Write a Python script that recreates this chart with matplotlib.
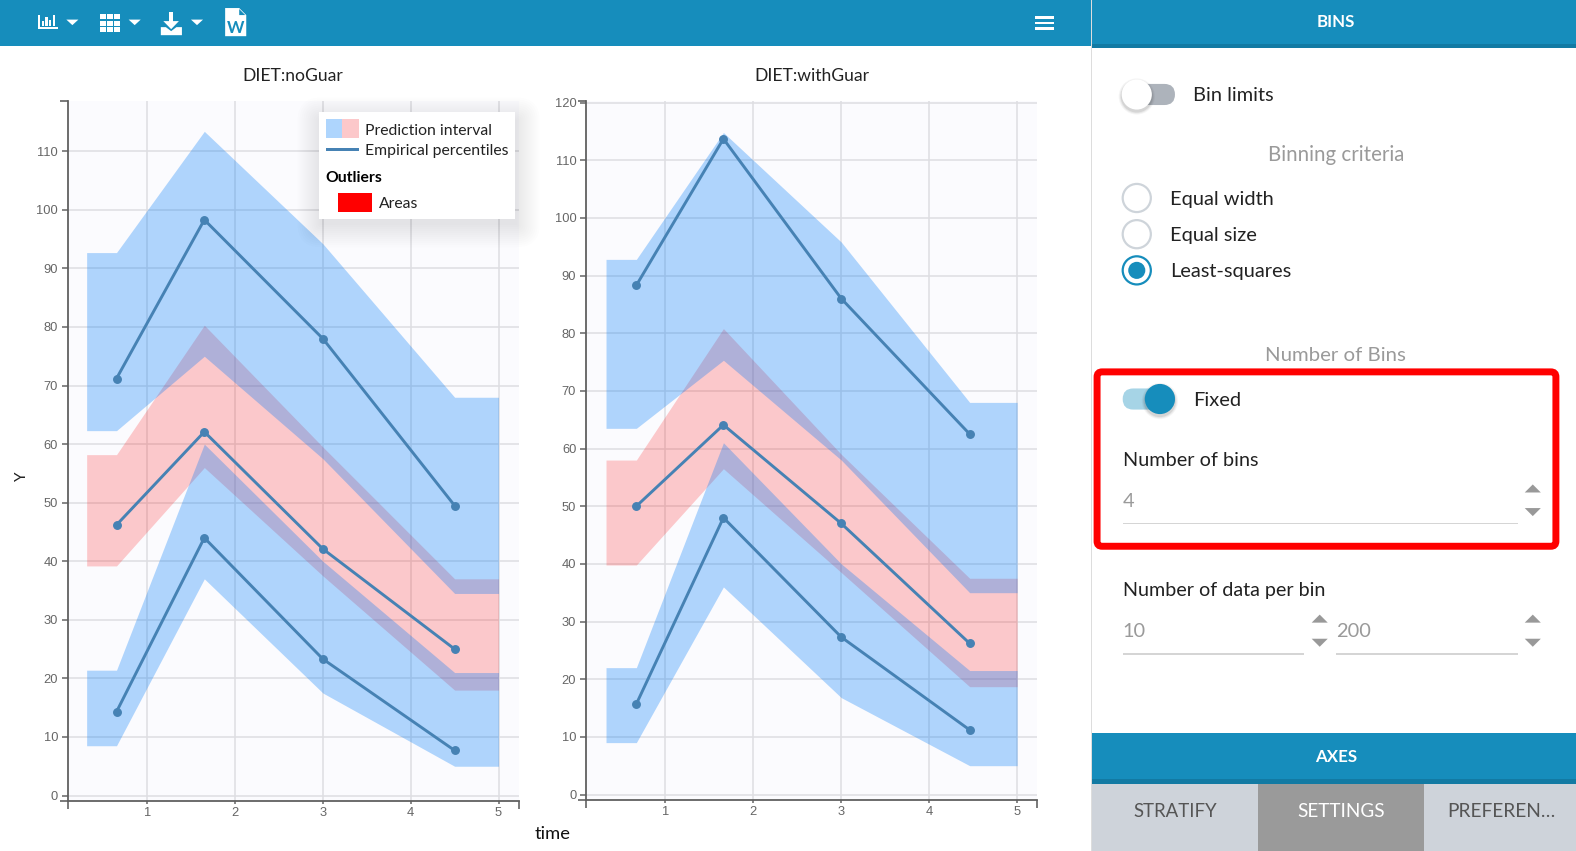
import matplotlib.pyplot as plt
from matplotlib.patches import Rectangle, Circle, FancyBboxPatch, Polygon

plt.switch_backend('Agg')

UI_FONT = 'Lato'
TICK_FONT = 'Liberation Sans'
W, H = 1568, 846.7  # coordinates of the screenshot layout

# bins: [top band hi, top band lo, pink hi, pink lo, low band hi, low band lo]
panels = [
    {
        'title': 'DIET:noGuar',
        'box': (67.5, 516, 100, 797),
        'x0': 146.5, 'x5': 496, 'y0': 791.5, 'y_top': 150.5, 'y_top_val': 110,
        'ticks': list(range(0, 111, 10)),
        'edges': (0.31, 5.0),
        'bins': [0.65, 1.65, 3.0, 4.5],
        'up_hi': [92.7, 113.4, 94.2, 68.0],
        'up_lo': [62.3, 75.0, 57.5, 34.5],
        'mid_hi': [58.2, 80.3, 59.5, 37.0],
        'mid_lo': [39.2, 56.0, 37.5, 18.0],
        'low_hi': [21.4, 60.0, 40.0, 21.0],
        'low_lo': [8.5, 37.0, 17.5, 5.0],
        'lines': [[71.2, 98.3, 78.0, 49.5], [46.2, 62.1, 42.1, 25.0], [14.3, 44.0, 23.3, 7.7]],
    },
    {
        'title': 'DIET:withGuar',
        'box': (583, 1032, 100, 796),
        'x0': 662, 'x5': 1012, 'y0': 790.5, 'y_top': 102, 'y_top_val': 120,
        'ticks': list(range(0, 121, 10)),
        'edges': (0.325, 5.0),
        'bins': [0.67, 1.66, 3.0, 4.46],
        'up_hi': [92.8, 114.8, 95.8, 68.0],
        'up_lo': [63.5, 75.3, 58.0, 35.0],
        'mid_hi': [58.0, 80.8, 59.0, 37.5],
        'mid_lo': [39.8, 56.5, 38.5, 18.7],
        'low_hi': [22.0, 61.0, 40.0, 21.5],
        'low_lo': [9.0, 36.0, 16.8, 5.0],
        'lines': [[88.3, 113.7, 86.0, 62.5], [50.0, 64.1, 47.0, 26.2], [15.7, 48.0, 27.3, 11.2]],
    },
]

fig = plt.figure(figsize=(15.76, 8.51), dpi=100, facecolor='white')


def band(ax, p, hi, lo, color, alpha):
    xs = [p['edges'][0]] + p['bins'] + [p['edges'][1]]
    h = [hi[0]] + hi + [hi[-1]]
    l = [lo[0]] + lo + [lo[-1]]
    ax.fill_between(xs, l, h, color=color, alpha=alpha, lw=0, zorder=2)


for p in panels:
    left, right, top, bottom = p['box']
    ax = fig.add_axes([left / W, 1 - bottom / H, (right - left) / W, (bottom - top) / H])
    ax.set_facecolor('#fbfbfe')

    # axis limits come from the pixel position of the known ticks
    ux = (p['x5'] - p['x0']) / 4
    uy = (p['y0'] - p['y_top']) / p['y_top_val']
    xlim = (1 + (left - p['x0']) / ux, 1 + (right - p['x0']) / ux)
    ylim = ((p['y0'] - bottom) / uy, (p['y0'] - top) / uy)
    ax.set_xlim(xlim)
    ax.set_ylim(ylim)

    band(ax, p, p['mid_hi'], p['mid_lo'], '#ff0000', 0.2)
    band(ax, p, p['up_hi'], p['up_lo'], '#007af8', 0.3)
    band(ax, p, p['low_hi'], p['low_lo'], '#007af8', 0.3)

    for series in p['lines']:
        ax.plot(p['bins'], series, color='#4682b4', lw=2.1, marker='o', ms=5.4, zorder=3,
                clip_on=False)

    ax.set_xticks([1, 2, 3, 4, 5])
    ax.set_yticks(p['ticks'])
    ax.set_xticks(xlim, minor=True)
    ax.set_yticks(ylim, minor=True)
    ax.grid(True, which='major', color='#dedee2', lw=1.1, zorder=1)
    ax.set_axisbelow(True)
    ax.tick_params(which='major', colors='#666666', labelsize=9.3, length=4, width=1.1, pad=3)
    ax.tick_params(which='minor', colors='#555555', length=6, width=1.1)
    ax.tick_params(axis='x', which='major', length=2.5, pad=1.5)
    for lab in ax.get_xticklabels() + ax.get_yticklabels():
        lab.set_family(TICK_FONT)
    for s in ['top', 'right']:
        ax.spines[s].set_visible(False)
    for s in ['left', 'bottom']:
        ax.spines[s].set_color('#606060')
        ax.spines[s].set_linewidth(1.3)

# everything else is page furniture, drawn in screenshot coordinates
ui = fig.add_axes([0, 0, 1, 1], zorder=10)
ui.set_xlim(0, W)
ui.set_ylim(H, 0)
ui.axis('off')
ui.patch.set_alpha(0)

BLUE = '#168dbc'
DARK = '#127aa3'


def rect(x0, y0, x1, y1, color, z=1, alpha=1.0):
    ui.add_patch(Rectangle((x0, y0), x1 - x0, y1 - y0, fc=color, ec='none', zorder=z, alpha=alpha))


def txt(x, y, s, size=14.4, color='#222222', ha='left', weight='normal', family=UI_FONT, **kw):
    ui.text(x, y + 1, s, fontsize=size, color=color, ha=ha, va='center', weight=weight, family=family,
            zorder=8, **kw)


def tri(x, y, w, h, up, color):
    d = -h if up else h
    ui.add_patch(Polygon([(x - w, y), (x + w, y), (x, y + d)], fc=color, ec='none', zorder=6))


# plot titles and axis titles
txt(291.5, 74.5, 'DIET:noGuar', size=12.6, ha='center')
txt(807.5, 74.5, 'DIET:withGuar', size=12.6, ha='center')
txt(549.5, 828.5, 'time', size=13.2, ha='center', color='#111111')
txt(22, 473, 'Y', size=11, ha='center', rotation=90)

# top toolbar
rect(0, 0, 1085, 45.5, BLUE)
# chart icon
rect(37.5, 27, 58, 29, 'white', 3)
rect(37.5, 15, 39.5, 29, 'white', 3)
for bx, bh in zip([41.5, 45, 48.5, 52.5], [5, 9, 6, 11]):
    rect(bx, 26 - bh, bx + 2.3, 26, 'white', 3)
tri(72, 19.5, 6, 5.5, False, 'white')
# table icon
for i in range(3):
    for j in range(3):
        rect(99 + i * 7.2, 14 + j * 6.4, 105 + i * 7.2, 19.3 + j * 6.4, 'white', 3)
tri(134, 19.5, 6, 5.5, False, 'white')
# download icon
rect(168, 12, 172.5, 22, 'white', 3)
ui.add_patch(Polygon([(162.5, 21), (178, 21), (170.3, 29)], fc='white', ec='none', zorder=3))
ui.add_patch(Polygon([(160, 27), (165, 27), (170.3, 31), (175.5, 27), (181, 27), (181, 35), (160, 35)],
                     fc='white', ec='none', zorder=3))
tri(196, 19.5, 6, 5.5, False, 'white')
# word icon
ui.add_patch(Polygon([(224, 8), (238, 8), (245, 15), (245, 36), (224, 36)], fc='white', ec='none', zorder=3))
ui.add_patch(Polygon([(238, 9), (244, 15), (238, 15)], fc=BLUE, ec='none', zorder=4))
txt(234.5, 26.5, 'W', size=12, color=BLUE, ha='center', weight='bold')
# hamburger
for yy in [16, 21.5, 27]:
    rect(1030, yy, 1048.5, yy + 2.5, 'white', 3)

# legend box with a soft shadow, mostly below the box
for g in range(1, 24, 2):
    ui.add_patch(FancyBboxPatch((317 + 2, 111 + 9), 195, 103, boxstyle=f'round,pad={g},rounding_size={g}',
                                fc='black', ec='none', alpha=0.009, zorder=4))
rect(317, 111, 512, 218, 'white', 5)
rect(324, 118.5, 340.5, 137.5, '#aed5fd', 6)
rect(340.5, 118.5, 357, 137.5, '#fcc8ca', 6)
rect(324, 147.5, 357, 150, '#4682b4', 6)
txt(363.5, 129, 'Prediction interval', size=11.3)
txt(363.5, 149, 'Empirical percentiles', size=11.3)
txt(323.5, 176, 'Outliers', size=11.3, weight='bold', color='black')
rect(336.5, 192, 370, 211, '#ff0000', 6)
txt(377, 201.5, 'Areas', size=11.3)

# right panel
rect(1085, 0, 1086.5, H, '#dddddd')
rect(1086.5, 0, W, 43.5, BLUE)
rect(1086.5, 43.5, W, 48, DARK)
txt(1329, 20.5, 'BINS', size=12.2, color='white', ha='center', weight='bold')


def toggle(x0, y, on):
    ui.add_patch(FancyBboxPatch((x0 + 1, y - 10.5), 52, 21, boxstyle='round,pad=0,rounding_size=10.5',
                                fc='#a6d4e6' if on else '#adb3bb', ec='none', zorder=3, mutation_aspect=1))
    cx = x0 + 38 if on else x0 + 15
    for r, a in [(18, 0.04), (17, 0.05), (16, 0.08)]:
        ui.add_patch(Circle((cx, y + 2), r, fc='black', ec='none', alpha=a, zorder=3))
    ui.add_patch(Circle((cx, y), 15, fc=BLUE if on else 'white', ec='none', zorder=4))


toggle(1116, 94, False)
txt(1187, 94, 'Bin limits')
txt(1329, 153, 'Binning criteria', color='#9a9a9a', ha='center', size=14.8)

for yy, label, sel in [(197, 'Equal width', False), (233, 'Equal size', False), (269, 'Least-squares', True)]:
    ui.add_patch(Circle((1131, yy), 14, fc='white', ec=BLUE if sel else '#ced4da', lw=1.6, zorder=4))
    if sel:
        ui.add_patch(Circle((1131, yy), 8.5, fc=BLUE, ec='none', zorder=5))
    txt(1164.5, yy + 0.5, label)

txt(1329, 353, 'Number of Bins', color='#9a9a9a', ha='center', size=14.7)
ui.add_patch(FancyBboxPatch((1091.5, 370), 456.5, 173.5, boxstyle='round,pad=0,rounding_size=5',
                            fc='none', ec='#ff0000', lw=5, zorder=6))
toggle(1116, 397, True)
txt(1187, 397, 'Fixed')
txt(1117, 457, 'Number of bins', size=14.3)
txt(1117, 497.5, '4', color='#9a9a9a')
rect(1117, 520, 1510, 521.2, '#d5d5d5')
tri(1525, 490, 8, 8, True, '#999999')
tri(1525, 505.5, 8, 8, False, '#999999')

txt(1117, 586.5, 'Number of data per bin', size=14.2)
txt(1117, 627, '10', color='#9a9a9a')
txt(1329, 627, '200', color='#9a9a9a')
rect(1117, 650, 1297, 651.2, '#d5d5d5')
rect(1329, 650, 1510, 651.2, '#d5d5d5')
for tx in [1313, 1525]:
    tri(tx, 619.5, 8, 8, True, '#999999')
    tri(tx, 635.5, 8, 8, False, '#999999')

# bottom tabs
rect(1086.5, 729.5, W, 775.5, BLUE)
rect(1086.5, 775.5, W, 780, DARK)
txt(1329, 752.5, 'AXES', size=12.2, color='white', ha='center', weight='bold')
rect(1086.5, 780, 1252, H, '#ced3da')
rect(1252, 780, 1417, H, '#9a9a9a')
rect(1417, 780, W, H, '#ced3da')
txt(1169, 806, 'STRATIFY', size=13.4, color='#555555', ha='center')
txt(1334, 806, 'SETTINGS', size=13.6, color='white', ha='center')
txt(1494, 806, 'PREFEREN…', size=13.8, color='#555555', ha='center')

fig.savefig('out.png', dpi=100)
plt.close(fig)
